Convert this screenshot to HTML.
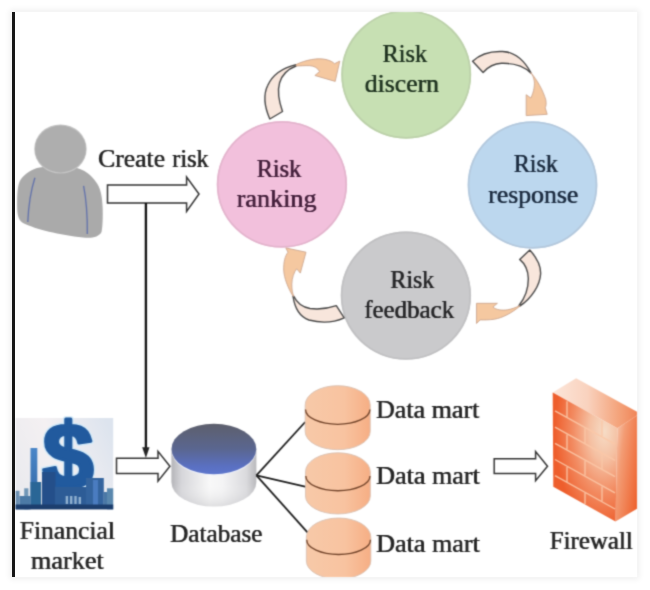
<!DOCTYPE html>
<html><head><meta charset="utf-8"><style>
html,body{margin:0;padding:0;background:#fff;width:650px;height:590px;overflow:hidden}
#frame{position:absolute;left:12px;top:12px;width:625px;height:565px;background:#fff;box-shadow:0 0 6px 2px rgba(0,0,0,0.07);overflow:hidden}
#wrap{position:absolute;left:0;top:0;width:650px;height:590px}
svg{position:absolute;left:0;top:0}
text{font-family:"Liberation Serif",serif;font-size:25px;fill:#262626;stroke:#262626;stroke-width:0px}
.tg{fill:#1f3320;stroke:#1f3320}.tp{fill:#45203c;stroke:#45203c}.tb{fill:#1c2c40;stroke:#1c2c40}.ty{fill:#262628;stroke:#262628}
</style></head><body>
<div id="frame"></div>
<div id="wrap"><svg width="650" height="590" viewBox="0 0 650 590">
<defs>
  <filter id="soft" x="0" y="0" width="650" height="590" filterUnits="userSpaceOnUse" color-interpolation-filters="sRGB"><feConvolveMatrix order="5" kernelMatrix="0.00001 0.00048 0.00157 0.00048 0.00001 0.00089 0.03110 0.10155 0.03110 0.00089 0.00358 0.12471 0.40724 0.12471 0.00358 0.00089 0.03110 0.10155 0.03110 0.00089 0.00001 0.00048 0.00157 0.00048 0.00001" edgeMode="duplicate" preserveAlpha="false"/></filter>
  <clipPath id="fc"><rect x="12" y="12" width="625" height="565"/></clipPath>
  <linearGradient id="dbtop" x1="0" y1="0" x2="0" y2="1">
    <stop offset="0" stop-color="#5d5f6c"/><stop offset="0.5" stop-color="#5a6690"/><stop offset="0.85" stop-color="#5a70c2"/><stop offset="1" stop-color="#5d76cc"/>
  </linearGradient>
  <linearGradient id="dbside" x1="0" y1="0" x2="1" y2="0">
    <stop offset="0" stop-color="#b4b4b8"/><stop offset="0.12" stop-color="#d6d6da"/><stop offset="0.45" stop-color="#f8f8f8"/><stop offset="0.6" stop-color="#f4f4f5"/><stop offset="0.88" stop-color="#dadadd"/><stop offset="1" stop-color="#b8b8bc"/>
  </linearGradient>
  <linearGradient id="dm" x1="0" y1="0" x2="1" y2="0">
    <stop offset="0" stop-color="#f7c9a8"/><stop offset="0.6" stop-color="#f8c3a0"/><stop offset="1" stop-color="#f6ae84"/>
  </linearGradient>
  <linearGradient id="fin" x1="0" y1="0.6" x2="1" y2="0.2">
    <stop offset="0" stop-color="#ebebef"/><stop offset="0.45" stop-color="#f4f0f2"/><stop offset="1" stop-color="#dde4ee"/>
  </linearGradient>
  <radialGradient id="fwf" cx="0.78" cy="0.3" r="0.75" fx="0.8" fy="0.3">
    <stop offset="0" stop-color="#f6dcc6"/><stop offset="0.3" stop-color="#f5c0a2"/><stop offset="0.65" stop-color="#f28a60"/><stop offset="1" stop-color="#ee5e2c"/>
  </radialGradient>
  <linearGradient id="fwt" x1="0" y1="0" x2="1" y2="0">
    <stop offset="0" stop-color="#fce6da"/><stop offset="0.4" stop-color="#f9d2be"/><stop offset="0.75" stop-color="#f4a47c"/><stop offset="1" stop-color="#ef8052"/>
  </linearGradient>
  <linearGradient id="fws" x1="0" y1="0" x2="1" y2="0.55">
    <stop offset="0" stop-color="#f6d0ba"/><stop offset="0.35" stop-color="#f39c74"/><stop offset="1" stop-color="#ee6430"/>
  </linearGradient>
  <linearGradient id="twr" x1="0" y1="0" x2="0" y2="1"><stop offset="0" stop-color="#4a86c8"/><stop offset="1" stop-color="#2e62a0"/></linearGradient>
  <linearGradient id="dbshade" x1="0" y1="0" x2="0" y2="1"><stop offset="0" stop-color="#fff" stop-opacity="0"/><stop offset="0.6" stop-color="#fff" stop-opacity="0"/><stop offset="1" stop-color="#b0b0b4" stop-opacity="0.35"/></linearGradient>
</defs>
<g filter="url(#soft)"><g clip-path="url(#fc)">
  <rect x="12" y="12" width="625" height="565" fill="#fff"/>
  <!-- circles -->
  <ellipse cx="406.2" cy="74.5" rx="65" ry="64.2" fill="#c7e0b3"/>
  <ellipse cx="406.2" cy="74.5" rx="64" ry="63.2" fill="none" stroke="#bcd0aa" stroke-width="1.6"/>
  <ellipse cx="281.9" cy="184.4" rx="65.2" ry="63.4" fill="#f2c0dc"/>
  <ellipse cx="281.9" cy="184.4" rx="64.2" ry="62.4" fill="none" stroke="#e2b4cc" stroke-width="1.6"/>
  <ellipse cx="532.5" cy="185" rx="64.9" ry="63.7" fill="#bcd7ee"/>
  <ellipse cx="532.5" cy="185" rx="63.9" ry="62.7" fill="none" stroke="#b4c8dc" stroke-width="1.6"/>
  <ellipse cx="405.9" cy="295.6" rx="65.2" ry="64.2" fill="#cacacc"/>
  <ellipse cx="405.9" cy="295.6" rx="64.2" ry="63.2" fill="none" stroke="#c0c0c2" stroke-width="1.6"/>

  <!-- curved arrows -->
  <g stroke-linejoin="round">
  <!-- A: pink -> green -->
  <path d="M269.8,119 C265,108 263,95 267.8,85.3 C272,76 282,68 296,64.6 L296,66 C288,69 282,75 279.6,82.7 C277.5,90 278.5,100 282.5,111.5 Z" fill="#f8e6dc" stroke="#4a4a4a" stroke-width="1.4"/>
  <path d="M296,64.6 C305,60 318,57.5 326,59.5 C330,60.5 333,62 334.5,63.7 L339.8,61.1 L335.2,81.4 L314.9,75.5 L319.5,71.6 C318,68 314,65.8 309.7,65.7 C305,65.5 300,66 296,66 Z" fill="#f5c8a0" stroke="#c8a088" stroke-width="0.8"/>
  <!-- B: green -> blue -->
  <path d="M472.6,61.3 C480,54 492,51 502.7,51.5 C514,52 524,60 530.8,72.5 L530.8,73.1 C524,66 514,63 501.4,63.3 C494,63.5 488,67 483.1,72.5 Z" fill="#f8e6dc" stroke="#4a4a4a" stroke-width="1.4"/>
  <path d="M530.8,72.5 C537,80 543,90 545.8,99.9 C546.5,104 546,106 545.2,107.8 L547.2,114.3 L526.2,115.6 L526.2,94.7 L530.8,98 C534,92 535,84 534.1,80.3 C533.5,77 532.5,75 530.8,73.1 Z" fill="#f5c8a0" stroke="#c8a088" stroke-width="0.8"/>
  <!-- C: blue -> gray -->
  <path d="M529.8,250 C537,258 541,266 540.6,274 C540,285 532,298 519.7,306.2 L519,305.5 C525,298 528.5,288 528.3,278.1 C528,270 524,263 519.7,259.4 Z" fill="#f8e6dc" stroke="#4a4a4a" stroke-width="1.4"/>
  <path d="M519.7,306.2 C512,313 502,318 494.5,319.2 C489,320 484,320 480.1,319.9 L476.5,323.5 L476.5,303.3 L497.4,303.3 L493,307 C496,310 502,310.5 507.5,309.8 C512,309 516,307.5 519.7,305.5 Z" fill="#f5c8a0" stroke="#c8a088" stroke-width="0.8"/>
  <!-- D: gray -> pink -->
  <path d="M344.2,317.8 C335,322 322,323.5 308.9,320 C300,317 295,310 293,296.2 L293.8,296.2 C297,303 302,307 310,308.5 C318,309.5 328,308.5 336.3,305.6 Z" fill="#f8e6dc" stroke="#4a4a4a" stroke-width="1.4"/>
  <path d="M293,296.2 C288,288 284,278 283.7,270 C283.5,262 285,256 288,252.2 L285.8,247.9 L306,252.2 L300.3,273.1 L296.7,268.8 C294,272 292,278 291.8,284 C291.8,290 292.5,293 293.8,296.2 Z" fill="#f5c8a0" stroke="#c8a088" stroke-width="0.8"/>
  </g>

  <!-- person -->
  <g>
    <path d="M37,168 C30,170 22,176 19.4,182 C17,188 17,200 17.2,209 C17.4,216 19,221 24,223.5 C35,229 60,235 83,237.5 C92,238.5 99,237 101.5,232 C103,226 103,210 102.4,204 C102,195 100,187 96,182 C92,176 86,171 80,169 C70,166 48,166 37,168 Z" fill="#aaaaaa"/>
    <ellipse cx="60.45" cy="149" rx="26.2" ry="24.6" fill="#c4c4c4"/>
    <ellipse cx="60.45" cy="149" rx="25.5" ry="23.4" fill="#aeaeae"/>
    <path d="M34.9,177.7 C31,190 28.5,205 27.8,222" stroke="#6070aa" stroke-width="1.3" fill="none"/>
    <path d="M83.6,185.8 C86,198 87.5,215 87.3,234" stroke="#6070aa" stroke-width="1.3" fill="none"/>
  </g>

  <!-- hollow arrow 1 -->
  <path d="M107.5,185 L186.6,185 L186.6,177 L199,194 L186.6,211.5 L186.6,203 L107.5,203 Z" fill="#fff" stroke="#333" stroke-width="1.5"/>
  <!-- vertical line -->
  <line x1="145.9" y1="203" x2="145.9" y2="449" stroke="#0d0d0d" stroke-width="2.3"/>
  <path d="M142.2,447.3 L149.5,447.3 L145.9,458 Z" fill="#222"/>

  <!-- financial market image -->
  <g>
    <rect x="15.5" y="418" width="97.7" height="91.4" fill="url(#fin)"/>
    <text x="42.6" y="487.8" style="font-size:92px;font-family:'Liberation Sans',sans-serif;font-weight:bold;fill:none;stroke:#d4eaf8;stroke-width:6;stroke-linejoin:round">$</text>
    <text x="42.6" y="487.8" style="font-size:92px;font-family:'Liberation Sans',sans-serif;font-weight:bold;fill:#215a9e;stroke:#215a9e;stroke-width:3.2;stroke-linejoin:round">$</text>
    <rect x="30.5" y="448" width="6.8" height="61" fill="url(#twr)"/>
    <rect x="30.5" y="482" width="10.6" height="27" fill="#2a6696"/>
    <rect x="42" y="472" width="13.5" height="37" fill="#244f8a"/>
    <rect x="86" y="478" width="17.8" height="31" fill="#34649e"/>
    <rect x="93" y="480" width="5" height="26" fill="#4a7cc0"/>
    <rect x="107" y="488.3" width="6.2" height="21" fill="#5a88ae"/>
    <rect x="103.8" y="492" width="3.2" height="17" fill="#4a78a6"/>
    <rect x="15.5" y="490.8" width="4" height="18.6" fill="#6a8fb2"/>
    <rect x="24.2" y="488.3" width="4.2" height="21" fill="#7096b6"/>
    <rect x="19.5" y="496" width="11" height="13.4" fill="#4c7aa6"/>
    <rect x="55" y="487" width="31" height="22" fill="#2d5c96"/>
    <rect x="15.5" y="504.5" width="97.7" height="4.9" fill="#1c3e6e"/>
    <g fill="#a4c2dc" opacity="0.85">
      <rect x="65.7" y="496" width="2.4" height="8"/><rect x="70" y="496" width="2.4" height="8"/><rect x="74.3" y="496" width="2.4" height="8"/><rect x="78.6" y="497" width="2.4" height="7"/>
    </g>
  </g>

  <!-- hollow arrow 2 -->
  <path d="M116.5,458.2 L158,458.2 L158,451.4 L169.9,466.3 L158,481.1 L158,473.4 L116.5,473.4 Z" fill="#fff" stroke="#333" stroke-width="1.5"/>

  <!-- database -->
  <g>
    <path d="M171.4,449 L171.4,482 A42.5,24.5 0 0 0 256.4,482 L256.4,449 Z" fill="url(#dbside)"/>
    <path d="M171.4,449 L171.4,482 A42.5,24.5 0 0 0 256.4,482 L256.4,449 Z" fill="url(#dbshade)"/>
    <ellipse cx="213.9" cy="450" rx="42.5" ry="25.4" fill="#eef0f8"/>
    <ellipse cx="213.9" cy="449" rx="42.4" ry="25.2" fill="url(#dbtop)"/>
  </g>

  <!-- connectors -->
  <g stroke="#1e1e1e" stroke-width="1.8" fill="none">
    <line x1="256.4" y1="475.4" x2="305.2" y2="422"/>
    <line x1="256.4" y1="475.4" x2="306.2" y2="486.8"/>
    <line x1="256.4" y1="475.4" x2="307.9" y2="532.8"/>
  </g>

  <!-- data marts -->
  <g>
    <path d="M305.2,405 A32.5,19.3 0 0 1 370.2,405 L370.2,431.5 A32.5,18.2 0 0 1 305.2,431.5 Z" fill="url(#dm)" stroke="#d9bfb0" stroke-width="0.9"/>
    <path d="M305.5,409.5 A32.2,14.8 0 0 0 369.9,409.5" stroke="#74462c" stroke-width="1.35" fill="none"/>
    <path d="M305.5,471.8 A32.4,19 0 0 1 370.29999999999995,471.8 L370.29999999999995,496 A32.4,18 0 0 1 305.5,496 Z" fill="url(#dm)" stroke="#d9bfb0" stroke-width="0.9"/>
    <path d="M305.8,476.0 A32.1,14.8 0 0 0 369.99999999999994,476.0" stroke="#74462c" stroke-width="1.35" fill="none"/>
    <path d="M306.40000000000003,537 A32.2,19 0 0 1 370.8,537 L370.8,561 A32.2,18 0 0 1 306.40000000000003,561 Z" fill="url(#dm)" stroke="#d9bfb0" stroke-width="0.9"/>
    <path d="M306.70000000000005,539.7 A31.900000000000002,14.8 0 0 0 370.5,539.7" stroke="#74462c" stroke-width="1.35" fill="none"/>
    </g>

  <!-- hollow arrow 3 -->
  <path d="M494.2,458.8 L535.6,458.8 L535.6,451.6 L547.5,466.2 L535.6,480.7 L535.6,473.6 L494.2,473.6 Z" fill="#fff" stroke="#333" stroke-width="1.5"/>

  <!-- firewall -->
  <g>
    <polygon points="552.7,392.4 576.1,378.3 640,413.5 617.4,428.3" fill="url(#fwt)"/>
    <polygon points="617.4,428.3 640,413.5 640,507 615.5,521.5" fill="url(#fws)"/>
    <polygon points="552.7,392.4 617.4,428.3 615.5,521.5 553.3,486.8" fill="url(#fwf)"/>
    <g stroke="#fbc8a8" stroke-width="1.4" fill="none" opacity="0.9">
      <path d="M555,410.9 L615,444.2 M555,427.1 L615,460.4 M555,443.3 L615,476.6 M555,459.5 L615,492.8 M555,475.7 L615,509.0"/>
      <path d="M567,401.2 L567,417.1 M602,420.6 L602,436.5 M585,428.3 L585,443.2 M567,434.6 L567,449.5 M602,454.0 L602,468.9 M585,460.7 L585,475.6 M567,467.0 L567,481.9 M602,486.4 L602,501.3 M585,493.1 L585,504.1"/>
    </g>
  </g>

  <g transform="translate(-0.3,0)"><g id="txt">
  
    <text class="tg" x="382.5" y="62" textLength="44.6" lengthAdjust="spacingAndGlyphs">Risk</text>
    <text class="tg" x="364.8" y="92.2" textLength="74.2" lengthAdjust="spacingAndGlyphs">discern</text>
    <text class="tp" x="256.7" y="176.6" textLength="44.6" lengthAdjust="spacingAndGlyphs">Risk</text>
    <text class="tp" x="236.7" y="206.8" textLength="79.9" lengthAdjust="spacingAndGlyphs">ranking</text>
    <text class="tb" x="513.7" y="172.1" textLength="44.3" lengthAdjust="spacingAndGlyphs">Risk</text>
    <text class="tb" x="488.3" y="202.5" textLength="90" lengthAdjust="spacingAndGlyphs">response</text>
    <text class="ty" x="390.4" y="287.5" textLength="43.9" lengthAdjust="spacingAndGlyphs">Risk</text>
    <text class="ty" x="364.2" y="317.6" textLength="90" lengthAdjust="spacingAndGlyphs">feedback</text>
  
    <text x="98.1" y="166.9" textLength="67" lengthAdjust="spacingAndGlyphs">Create</text>
    <text x="172.3" y="166.9" textLength="36.4" lengthAdjust="spacingAndGlyphs">risk</text>
    <text x="19.7" y="539.4" textLength="95.3" lengthAdjust="spacingAndGlyphs">Financial</text>
    <text x="30.9" y="569.3" textLength="73" lengthAdjust="spacingAndGlyphs">market</text>
    <text x="170.1" y="542.3" textLength="92.4" lengthAdjust="spacingAndGlyphs">Database</text>
    <text x="376" y="418" textLength="103.4" lengthAdjust="spacingAndGlyphs">Data mart</text>
    <text x="376.1" y="483.8" textLength="103.8" lengthAdjust="spacingAndGlyphs">Data mart</text>
    <text x="376.1" y="552.3" textLength="103.8" lengthAdjust="spacingAndGlyphs">Data mart</text>
    <text x="549.8" y="549" textLength="83" lengthAdjust="spacingAndGlyphs">Firewall</text>
  </g>
  <use href="#txt" x="0.6"/></g>
</g>
</g></svg></div>
<div id="bline" style="position:absolute;left:12px;top:12px;width:2.7px;height:565px;background:#161616"></div>
</body></html>
